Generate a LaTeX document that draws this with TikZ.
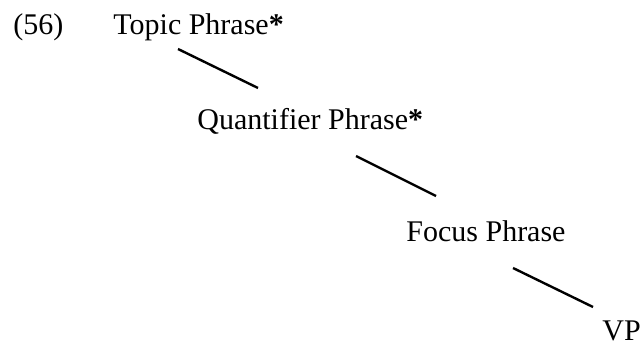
\documentclass[tikz,border=0pt]{standalone}
\usepackage{fontspec}
\setmainfont{Liberation Serif}
\usetikzlibrary{calc}

\begin{document}
\begin{tikzpicture}[x=0.5pt,y=-0.5pt,
  lab/.style={anchor=base west,inner sep=0pt,font=\fontsize{15}{18}\selectfont},
  branch/.style={line width=1.2pt}]
\useasboundingbox (0,0) rectangle (641,346);
% numero dell'esempio e proiezioni
\node[lab] (ex) at (13,35) {(56)};
\node[lab] (top) at (113,35) {Topic Phrase\textbf{*}};
\node[lab] (qp) at (197,130) {Quantifier Phrase\textbf{*}};
\node[lab] (fp) at (406,242) {Focus Phrase};
\node[lab] (vp) at (602,341) {VP};
% rami
\draw[branch] ($(top.base west)+(65,14)$) -- ($(qp.base west)+(61,-42)$);
\draw[branch] ($(qp.base west)+(159,26)$) -- ($(fp.base west)+(30,-46)$);
\draw[branch] ($(fp.base west)+(107,26)$) -- ($(vp.base west)+(-9,-34)$);
\end{tikzpicture}
\end{document}
